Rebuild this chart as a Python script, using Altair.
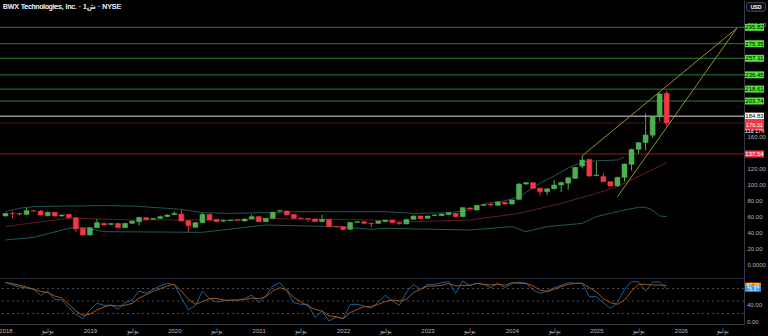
import altair as alt
import pandas as pd

# ---------------- data ----------------
months = list(range(95))  # 0 = Jan 2018 ... 94 = Nov 2025
opens = [60, 63.3, 63, 62, 66.7, 66.2, 60.4, 64.6, 60, 62, 57.9, 44.6, 36.25, 45.4, 50.8, 49.5, 50.8, 45.4, 50.8, 52.9,
         57.9, 56, 57, 59.2, 61.7, 62.5, 54.2, 45.8, 51.7, 62.1, 55.8, 53.5, 54.2, 55.4, 53.75, 56.25, 59.2, 52.9, 57.1, 66.2,
         66.2, 62.1, 57.5, 56.7, 56.25, 52.9, 55.8, 47, 46.7, 43.3, 52.1, 52.9, 51, 50.8, 53, 55, 51.7, 50, 55.8, 60,
         57.1, 60.4, 60.4, 61.7, 63.3, 59.2, 70, 67.5, 73.3, 74.6, 73.3, 77.1, 75, 80.8, 100, 101.7, 94.6, 90.4, 94, 98.75,
         101, 107, 122.5, 130.8, 110.4, 109.2, 102.9, 97.5, 108.3, 124.6, 143.3, 151.7, 161, 184, 213.3]
highs = [64, 65.4, 64, 70.8, 67.5, 67, 65.5, 65, 62, 62.5, 58.5, 45, 46, 56.25, 51.5, 51.5, 51.5, 51.5, 54.5, 59,
         58.5, 57.5, 60.5, 62, 65.5, 68.75, 54.5, 52.5, 64.6, 62.5, 56.5, 55.5, 55.8, 56, 57, 62.1, 59.5, 57.5, 65.4, 67.5,
         66.7, 62.5, 57.9, 57.5, 56.7, 61.25, 56.25, 47.5, 47, 52.5, 53.5, 53.3, 51.5, 54.2, 55.5, 55.4, 52.5, 56.2, 60.8, 60.4,
         60.4, 62.1, 63.3, 65, 63.75, 71.25, 70.8, 74, 74.6, 77.1, 78.3, 77.5, 80.8, 101.25, 102.5, 102.1, 95.8, 94.6, 105, 103,
         108.3, 121.25, 135.4, 131.25, 128.75, 113.3, 103.3, 109, 125.8, 144.2, 152.5, 188.3, 185, 214, 216.6]
lows = [59.5, 57, 61, 61, 65, 60.5, 59.5, 59.5, 59, 55.8, 40.4, 35.4, 35.5, 45, 48, 48.5, 45, 45, 50.4, 47.9,
        55, 55.5, 56.5, 58.8, 61, 53, 39.6, 45, 51, 54.5, 52.5, 52.5, 53.5, 53.8, 53, 55.8, 52.5, 52.5, 56.5, 65.4,
        60.8, 56.7, 56.3, 52.9, 52.5, 52.5, 46, 45.8, 42.5, 43, 51.7, 50.4, 45.8, 50.4, 52.5, 51.3, 49.2, 49.6, 55.4, 56.2,
        56.7, 60, 60, 61.2, 58.75, 58.75, 68.3, 67, 72.9, 72.5, 72.9, 74.6, 74.6, 80.4, 99, 94.2, 85.8, 86, 93.3, 90,
        93, 106.25, 119.6, 109, 110, 102.5, 96.7, 96.25, 103, 117, 137.5, 142, 157.5, 178, 173]
closes = [63.3, 62.9, 62.5, 66.7, 66.2, 61.2, 64.6, 60, 61.2, 57.9, 43.75, 36.25, 45.4, 51.7, 48.75, 50.5, 45.4, 50.8, 53.75, 58.3,
          55.4, 57, 59.2, 61.25, 63.3, 53.75, 47.9, 51.7, 62.1, 55, 52.9, 54.5, 55, 54.6, 56.25, 59.2, 52.9, 57.1, 64.6, 66.7,
          61.25, 57.1, 57, 56.25, 52.9, 55.8, 46.7, 46.5, 43.3, 52.1, 52.9, 50.8, 50.5, 53.75, 55, 51.7, 50.4, 55.8, 60, 56.7,
          60, 61.25, 62.5, 64.2, 59.2, 70.4, 68.75, 73.3, 74.2, 73.75, 77.5, 75, 80, 100, 101.7, 94.6, 90.4, 94, 98.75, 102,
          107.9, 120.8, 130, 110, 111.25, 102.9, 97.5, 108.3, 125, 143.3, 151.7, 161.25, 184.2, 212.5, 176.31]

# Bollinger-style bands (month index, price)
upper_idx = [0, 2, 4, 9, 14, 18, 23, 25, 28, 32, 37, 42, 48, 54, 58, 63, 66, 68, 71, 73, 75, 76, 78, 80, 82, 84, 87, 88]
upper_val = [65.5, 69.6, 71.7, 72.5, 72.9, 72.5, 69.6, 68.3, 64.2, 63.3, 64.2, 65.4, 65.4, 65.4, 63.3, 64, 67.5, 75, 79, 84,
             95, 101, 110, 120, 127.5, 129, 130, 134]
mid_idx = [0, 4, 9, 14, 18, 23, 28, 33, 37, 42, 47, 52, 58, 66, 73, 79, 84, 87, 94]
mid_val = [46.7, 51.7, 57.1, 56.25, 55, 55, 55, 55, 57.1, 55.8, 55.8, 55, 52.9, 55, 63.3, 75.8, 88.3, 96.7, 126.7]
lower_idx = [0, 4, 9, 11, 14, 28, 37, 47, 52, 54, 66, 72, 74, 77, 82, 84, 88, 90, 91, 92, 93, 94]
lower_val = [30, 33.3, 44.6, 45.8, 40.4, 39.6, 48.75, 46.7, 43.3, 44.6, 42.5, 46.7, 40.4, 46.7, 50.8, 59.2, 67.5, 70.8, 70.8,
             67.5, 60, 59.2]

# oscillator (lower pane)
osc_k = [94.8, 88.4, 83.6, 81.2, 78, 63.6, 74, 54, 52.4, 34, 18, 7.6, 28.4, 44.4, 39.6, 40.4, 30, 46, 52.4, 74,
         68.4, 78, 86, 92.4, 89.2, 58, 28.4, 39.6, 74, 55.6, 47.6, 50, 52.4, 51.6, 55.6, 64.4, 46, 62, 86, 94,
         74, 46, 42, 42, 10, 26, 2, 11.6, 7.6, 42, 42, 38, 32.4, 47.6, 63.6, 50, 39.6, 71.6, 90, 78,
         90, 90, 94, 96.4, 68.4, 98, 87.6, 92.4, 90, 82, 92.4, 82, 92.4, 95.6, 92.4, 76.4, 68.4, 74, 82, 87.6,
         94, 92.4, 92.4, 60.4, 60.4, 46, 32.4, 46, 78, 96.4, 96.4, 74, 95.6, 95.6, 78.87]
osc_d = [94.8, 91.6, 87.6, 83.6, 78, 73.2, 70, 62, 57.2, 42, 26, 15.6, 18, 28.4, 35.6, 39.6, 38, 39.6, 44.4, 57.2,
         65.2, 73.2, 79.6, 86, 90, 74, 54, 42, 48.4, 55.6, 56.4, 52.4, 51.6, 52.4, 53.2, 57.2, 55.6, 60.4, 74, 82,
         76.4, 58, 47.6, 38, 30, 26, 14, 12.4, 7.6, 22, 30, 36.4, 36.4, 42, 48.4, 52.4, 50, 54, 70, 78,
         86, 86, 87.6, 92.4, 86, 87.6, 87.6, 92.4, 90, 88.4, 90.8, 87.6, 94, 92.4, 92.4, 86, 76.4, 72.4, 78, 84.4,
         90, 92.4, 92.4, 82, 71.6, 55.6, 46, 42, 52.4, 74, 90, 90, 88.4, 88.4, 87.26]
osc_levels = [80, 50, 20]

# horizontal drawn levels
level_prices = [295.82, 275.35, 257.11, 236.45, 218.61, 203.74, 184.83, 176.31, 137.54]
level_colors = ["#2e7d32"] * 6 + ["#8f929b", "#4a1a1f", "#8b1c22"]
level_widths = [1] * 6 + [1.5, 1, 1]

# trend lines (two points each)
trend_group = ["up", "up", "low", "low"]
trend_idx = [82, 104.0, 87.0, 104.0]
trend_val = [135.4, 295, 84, 295]

# price tags on right scale
tag_prices = [295.82, 275.35, 257.11, 236.45, 218.61, 203.74, 184.83, 137.54]
tag_labels = ["295.82", "275.35", "257.11", "236.45", "218.61", "203.74", "184.83", "137.54"]
tag_fill = ["#52e436"] * 6 + ["#ffffff", "#f23645"]
tag_text = ["#000000"] * 7 + ["#ffffff"]
last_price = 176.31
last_label = "176.31\n11d 17h"
osc_tag_vals = [87.26, 78.87]
osc_tag_labels = ["87.26", "78.87"]
osc_tag_fill = ["#f57c00", "#2196f3"]
osc_tag_off = [-0.8, 4]
osc_axis_vals = [0, 40]
osc_axis_labels = ["0.00", "40.00"]

x_ticks = list(range(0, 103, 6))

# ---------------- frames ----------------
GREEN, RED = "#4caf50", "#f23645"
candles = pd.DataFrame({"idx": months, "open": opens, "high": highs, "low": lows, "close": closes})
candles["col"] = [GREEN if c >= o else RED for o, c in zip(opens, closes)]

bands = pd.concat([
    pd.DataFrame({"idx": upper_idx, "p": upper_val, "col": "#1d5552"}),
    pd.DataFrame({"idx": mid_idx, "p": mid_val, "col": "#5c1f22"}),
    pd.DataFrame({"idx": lower_idx, "p": lower_val, "col": "#1d5a57"}),
])
levels = pd.DataFrame({"p": level_prices, "col": level_colors, "w": level_widths})
trends = pd.DataFrame({"g": trend_group, "idx": trend_idx, "p": trend_val})
tags = pd.DataFrame({"p": tag_prices, "label": tag_labels, "fill": tag_fill, "tc": tag_text})
last_df = pd.DataFrame({"p": [last_price], "label": [last_label]})
osc = pd.concat([
    pd.DataFrame({"idx": months, "v": osc_k, "col": "#1f5f99"}),
    pd.DataFrame({"idx": months, "v": osc_d, "col": "#a8550f"}),
])
osc_lv = pd.DataFrame({"v": osc_levels})
osc_tags = pd.DataFrame({"v": osc_tag_vals, "label": osc_tag_labels, "fill": osc_tag_fill, "off": osc_tag_off})
osc_ax = pd.DataFrame({"v": osc_axis_vals, "label": osc_axis_labels})

# ---------------- scales / axes ----------------
FONT = "Liberation Sans"
LBL = "#b2b5be"
xscale = alt.Scale(domain=[-0.07, 104.28], nice=False, zero=False)
xaxis = alt.Axis(values=x_ticks, title=None, grid=False, ticks=False, labelPadding=3, labelFlush=False,
                 labelAlign="center", labelBound=False,
                 labelExpr="datum.value % 12 == 0 ? '' + (2018 + datum.value / 12) : 'يوليو'",
                 labelFontSize=6, labelColor=LBL, domainColor="#363a45", labelFont=FONT, labelOverlap=False)
pscale = alt.Scale(domain=[-75, 330], nice=False, zero=False)
oscale = alt.Scale(domain=[-5.2, 772.4], nice=False, zero=False)
paxis = alt.Axis(orient="right", values=[0, 20, 40, 60, 80, 100, 120, 160, 300], title=None, grid=False,
                 ticks=False, labelPadding=3, labelFontSize=6, labelColor=LBL, domainColor="#363a45",
                 labelFont=FONT, labelOverlap=False, labelFlush=False,
                 labelExpr="datum.value == 0 ? '0.0000' : format(datum.value, '.2f')")


def X(f="idx"):
    return alt.X(f + ":Q", scale=xscale, axis=xaxis)


def PY(f, axis=None):
    return alt.Y(f + ":Q", scale=pscale, axis=axis)


def OY(f):
    return alt.Y(f + ":Q", scale=oscale, axis=None)


band_layer = alt.Chart(bands).mark_line(strokeWidth=1).encode(
    x=X(), y=PY("p"), color=alt.Color("col:N", scale=None))
level_layer = alt.Chart(levels).mark_rule().encode(
    y=PY("p"), color=alt.Color("col:N", scale=None), strokeWidth=alt.StrokeWidth("w:Q", scale=None))
wicks = alt.Chart(candles).mark_rule(strokeWidth=1).encode(
    x=X(), y=PY("low", paxis), y2="high:Q", color=alt.Color("col:N", scale=None))
bodies = alt.Chart(candles).mark_bar(size=5, strokeWidth=0.5).encode(
    x=X(), y=PY("open"), y2="close:Q", color=alt.Color("col:N", scale=None),
    stroke=alt.Stroke("col:N", scale=None))
trend_layer = alt.Chart(trends).mark_line(strokeWidth=1, color="#978e33").encode(
    x=X(), y=PY("p"), detail="g:N")

RECT1 = "M-1,-0.368L1,-0.368L1,0.368L-1,0.368Z"
RECT2 = "M-1,-0.6L1,-0.6L1,0.6L-1,0.6Z"
tag_boxes = alt.Chart(tags).mark_point(shape=RECT1, size=361, filled=True, opacity=1, strokeWidth=0).encode(
    x=alt.value(754.5), y=PY("p"), color=alt.Color("fill:N", scale=None))
tag_txt = alt.Chart(tags).mark_text(fontSize=6, font=FONT, align="center", baseline="middle").encode(
    x=alt.value(754.5), y=PY("p"), text="label:N", color=alt.Color("tc:N", scale=None))
last_box = alt.Chart(last_df).mark_point(shape=RECT2, size=361, filled=True, opacity=1, strokeWidth=0,
                                         color="#f23645", yOffset=1.8).encode(x=alt.value(754.5), y=PY("p"))
last_txt = alt.Chart(last_df).mark_text(fontSize=5.5, font=FONT, align="center", baseline="middle",
                                        lineBreak="\n", lineHeight=6, color="#ffffff", dy=1.8).encode(
    x=alt.value(754.5), y=PY("p"), text="label:N")

osc_lines = alt.Chart(osc).mark_line(strokeWidth=1).encode(
    x=X(), y=OY("v"), color=alt.Color("col:N", scale=None))
osc_levels_l = alt.Chart(osc_lv).mark_rule(strokeDash=[2, 3], color="#4a4d57", strokeWidth=1).encode(y=OY("v"))
osc_sep = alt.Chart(osc_lv).mark_rule(color="#2a2e39", strokeWidth=1).encode(y=alt.value(278.5))
osc_tag_b = alt.Chart(osc_tags).mark_point(shape="M-1,-0.36L1,-0.36L1,0.36L-1,0.36Z", size=256, filled=True,
                                          opacity=1, strokeWidth=0).encode(
    x=alt.value(753), y=OY("v"), color=alt.Color("fill:N", scale=None), yOffset=alt.YOffset("off:Q", scale=None))
osc_tag_t = alt.Chart(osc_tags).mark_text(fontSize=5, font=FONT, align="center", baseline="middle",
                                         color="#ffffff").encode(
    x=alt.value(753), y=OY("v"), text="label:N", yOffset=alt.YOffset("off:Q", scale=None))
osc_ax_t = alt.Chart(osc_ax).mark_text(fontSize=6, font=FONT, align="left", baseline="middle", color=LBL).encode(
    x=alt.value(747), y=OY("v"), text="label:N")

title_t = alt.Chart(osc_lv).mark_text(fontSize=7, font=FONT, align="left", baseline="middle",
                                      color="#d1d4dc").encode(
    x=alt.value(3), y=alt.value(6.5), text=alt.value("BWX Technologies, Inc. · 1ش · NYSE"))
usd_box = alt.Chart(osc_lv).mark_rect(fill="#0c0e13", stroke="#434651", strokeWidth=0.8, cornerRadius=2).encode(
    x=alt.value(746.5), x2=alt.value(765.5), y=alt.value(2.5), y2=alt.value(11))
usd_t = alt.Chart(osc_lv).mark_text(fontSize=5, font=FONT, align="center", baseline="middle",
                                    color="#d1d4dc").encode(
    x=alt.value(756), y=alt.value(6.8), text=alt.value("USD"))

chart = alt.layer(
    wicks, band_layer, level_layer, bodies, trend_layer,
    osc_levels_l, osc_sep, osc_lines,
    tag_boxes, tag_txt, last_box, last_txt, osc_tag_b, osc_tag_t, osc_ax_t,
    title_t, usd_box, usd_t,
).resolve_scale(y="independent").properties(
    width=744, height=324,
    autosize=alt.AutoSizeParams(type="none"),
    padding={"left": 0, "top": 0, "right": 24, "bottom": 12},
).configure(background="#000000").configure_view(strokeWidth=0)

chart.save("out.html", embed_options={"renderer": "svg", "actions": False})
